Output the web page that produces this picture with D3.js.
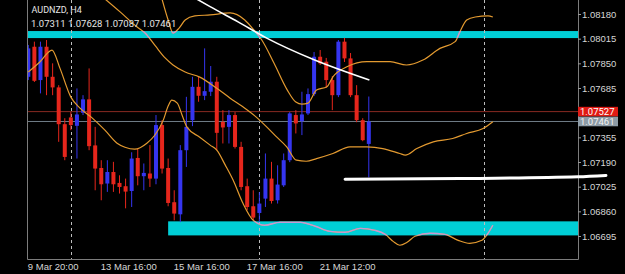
<!DOCTYPE html>
<html>
<head>
<meta charset="utf-8">
<script src="https://cdn.jsdelivr.net/npm/d3@7"></script>
<style>
  html, body { margin: 0; padding: 0; background: #000; }
  svg { display: block; font-family: Roboto, "Noto Sans", sans-serif; }
</style>
</head>
<body>
<div id="chart"></div>
<script>
const symbol = "AUDNZD, H4";

// H4 candles (bar 0 = 9 Mar 20:00)
const openVals = [1.07760, 1.07961, 1.07738, 1.07961, 1.07760, 1.07689, 1.07443, 1.07488, 1.07432, 1.07519,
  1.07609, 1.07301, 1.07150, 1.07046, 1.07123, 1.07050, 1.07028, 1.06996, 1.07217, 1.07095,
  1.07113, 1.07079, 1.07437, 1.07150, 1.06921, 1.06840, 1.07269, 1.07470, 1.07693, 1.07633,
  1.07660, 1.07727, 1.07458, 1.07425, 1.07504, 1.07291, 1.07028, 1.06894, 1.06849, 1.06945,
  1.07079, 1.06934, 1.07034, 1.07202, 1.07504, 1.07463, 1.07515, 1.07644, 1.07894, 1.07861,
  1.07738, 1.07637, 1.07995, 1.07883, 1.07637, 1.07470, 1.07311];
const highVals = [1.07973, 1.07995, 1.07995, 1.08006, 1.07850, 1.07704, 1.07483, 1.07524, 1.07682, 1.07637,
  1.07816, 1.07425, 1.07202, 1.07202, 1.07191, 1.07101, 1.07079, 1.07255, 1.07280, 1.07180,
  1.07303, 1.07504, 1.07470, 1.07213, 1.07001, 1.07303, 1.07626, 1.07760, 1.07760, 1.07950,
  1.07832, 1.07760, 1.07537, 1.07537, 1.07524, 1.07325, 1.07079, 1.07001, 1.06988, 1.07247,
  1.07191, 1.07168, 1.07247, 1.07524, 1.07537, 1.07660, 1.07682, 1.07926, 1.07939, 1.07886,
  1.07765, 1.08006, 1.08020, 1.07919, 1.07704, 1.07483, 1.07628];
const lowVals = [1.07738, 1.07725, 1.07649, 1.07637, 1.07637, 1.07325, 1.07202, 1.07403, 1.07213, 1.07504,
  1.07269, 1.07001, 1.06934, 1.06990, 1.06990, 1.06979, 1.06880, 1.06889, 1.07034, 1.07001,
  1.07023, 1.07041, 1.07113, 1.06894, 1.06800, 1.06788, 1.07157, 1.07430, 1.07593, 1.07604,
  1.07631, 1.07269, 1.07314, 1.07314, 1.07280, 1.07001, 1.06867, 1.06800, 1.06788, 1.06889,
  1.06912, 1.06912, 1.07023, 1.07189, 1.07381, 1.07370, 1.07504, 1.07631, 1.07839, 1.07685,
  1.07537, 1.07624, 1.07859, 1.07624, 1.07456, 1.07329, 1.07087];
const closeVals = [1.07950, 1.07733, 1.07961, 1.07760, 1.07689, 1.07443, 1.07224, 1.07437, 1.07508, 1.07609,
  1.07296, 1.07146, 1.07041, 1.07123, 1.07041, 1.07023, 1.06992, 1.07213, 1.07095, 1.07117,
  1.07079, 1.07437, 1.07146, 1.06916, 1.06845, 1.07269, 1.07425, 1.07693, 1.07633, 1.07664,
  1.07727, 1.07385, 1.07421, 1.07504, 1.07291, 1.07023, 1.06889, 1.06818, 1.06912, 1.07079,
  1.06929, 1.07039, 1.07202, 1.07515, 1.07448, 1.07508, 1.07644, 1.07894, 1.07850, 1.07738,
  1.07637, 1.07995, 1.07883, 1.07637, 1.07470, 1.07336, 1.07461];

// Bollinger bands (shifted 20 bars forward), traced as [bar, price]
const upperBand = [[21.8, 1.08308], [23.0, 1.08140], [23.8, 1.08053], [24.8, 1.08086], [25.8, 1.08140],
  [27.4, 1.08167], [29.9, 1.08174], [33.2, 1.08187], [35.6, 1.08140], [37.1, 1.08073], [38.4, 1.08006],
  [40.4, 1.07852], [42.6, 1.07671], [44.0, 1.07591], [45.0, 1.07577], [46.0, 1.07584], [47.4, 1.07671],
  [49.1, 1.07693], [50.1, 1.07760], [52.4, 1.07827], [55.7, 1.07861], [59.5, 1.07861], [62.2, 1.07839],
  [64.9, 1.07872], [67.7, 1.07950], [70.2, 1.07995], [71.0, 1.08062], [72.1, 1.08140], [73.5, 1.08160],
  [75.6, 1.08167], [76.4, 1.08160]];
const middleBand = [[11.8, 1.08308], [15.1, 1.08194], [17.9, 1.08093], [19.2, 1.08053], [20.9, 1.07966],
  [22.5, 1.07886], [23.8, 1.07839], [25.8, 1.07792], [28.2, 1.07758], [31.0, 1.07683], [33.2, 1.07617],
  [35.3, 1.07559], [37.3, 1.07497], [39.2, 1.07425], [40.7, 1.07363], [42.5, 1.07291], [44.1, 1.07202],
  [45.7, 1.07195], [47.4, 1.07213], [50.1, 1.07247], [52.9, 1.07291], [55.7, 1.07291], [58.3, 1.07280],
  [61.1, 1.07247], [62.0, 1.07236], [63.9, 1.07280], [66.6, 1.07325], [69.8, 1.07347], [72.1, 1.07381],
  [74.8, 1.07414], [76.4, 1.07459]];
const lowerBand = [[0, 1.07792], [1.9, 1.07859], [3.9, 1.07939], [5.2, 1.07818], [7.0, 1.07624],
  [8.5, 1.07550], [10.3, 1.07492], [12.6, 1.07403], [14.6, 1.07316], [15.9, 1.07289], [17.5, 1.07276],
  [19.5, 1.07316], [20.8, 1.07369], [22.2, 1.07470], [23.0, 1.07564], [23.6, 1.07604], [24.5, 1.07584],
  [25.3, 1.07503], [26.1, 1.07423], [28.2, 1.07356], [29.9, 1.07303], [31.0, 1.07269], [32.4, 1.07169],
  [33.7, 1.07068], [35.3, 1.06914], [37.0, 1.06800], [38.9, 1.06767], [41.4, 1.06787], [44.7, 1.06787],
  [47.2, 1.06760], [49.6, 1.06726], [52.1, 1.06720], [54.6, 1.06746], [57.0, 1.06733], [58.7, 1.06706],
  [60.0, 1.06659], [61.1, 1.06633], [62.3, 1.06653], [63.6, 1.06693], [66.1, 1.06713], [68.5, 1.06706],
  [70.7, 1.06666], [72.6, 1.06646], [74.6, 1.06666], [75.6, 1.06713], [76.4, 1.06767]];

// drawn objects
const trendLine = [[27.1, 1.08294], [29.9, 1.08229], [34.5, 1.08127], [39.3, 1.08017], [46.8, 1.07877], [56.1, 1.07738]];
const supportLine = [[52.1, 1.07075], [71.0, 1.07079], [90.4, 1.07091], [95.0, 1.07100]];
const zoneTop = { from: -2, prices: [1.08019, 1.08066] };
const zoneBottom = { from: 23.0, prices: [1.06699, 1.06793] };
const separators = [7, 38, 75];

const timeTicks = [0, 12, 24, 36, 48];
const timeLabels = ["9 Mar 20:00", "13 Mar 16:00", "15 Mar 16:00", "17 Mar 16:00", "21 Mar 12:00"];
const priceTicks = [1.08180, 1.08015, 1.07850, 1.07685, 1.07355, 1.07190, 1.07025, 1.06860, 1.06695];
const askPrice = 1.07527;
const bidPrice = 1.07461;

const W = 625, H = 274;
const plot = { left: 27, right: 578, top: 0, bottom: 260 };

const x = d3.scaleLinear().domain([0, 56]).range([28.3, 368.8]);
const y = d3.scaleLinear().domain([1.06695, 1.08180]).range([236, 14]);

const candles = openVals.map((o, i) => ({
  i, o, h: highVals[i], l: lowVals[i], c: closeVals[i]
}));

const svg = d3.select("#chart").append("svg")
  .attr("width", W).attr("height", H);

svg.append("rect").attr("width", W).attr("height", H).attr("fill", "#000");

const defs = svg.append("defs");
defs.append("clipPath").attr("id", "plotClip")
  .append("rect")
  .attr("x", plot.left).attr("y", plot.top)
  .attr("width", plot.right - plot.left).attr("height", plot.bottom - plot.top);

const zoneClip = defs.append("clipPath").attr("id", "zoneClip");

const g = svg.append("g").attr("clip-path", "url(#plotClip)");

// zones (cyan rectangles)
[zoneTop, zoneBottom].forEach(z => {
  const x0 = Math.max(plot.left, x(z.from));
  const r = {
    x: x0, y: y(z.prices[1]),
    w: plot.right - x0, h: y(z.prices[0]) - y(z.prices[1])
  };
  g.append("rect")
    .attr("x", r.x).attr("y", r.y).attr("width", r.w).attr("height", r.h)
    .attr("fill", "#00ced6");
  zoneClip.append("rect")
    .attr("x", r.x).attr("y", r.y).attr("width", r.w).attr("height", r.h);
});

// weekly separators
g.selectAll(".sep").data(separators).enter().append("line")
  .attr("x1", d => Math.round(x(d)) + 0.5).attr("x2", d => Math.round(x(d)) + 0.5)
  .attr("y1", plot.top).attr("y2", plot.bottom)
  .attr("stroke", "#bdbdbd").attr("stroke-width", 1)
  .attr("stroke-dasharray", "3,3");

// ask / bid lines
g.append("line")
  .attr("x1", plot.left).attr("x2", plot.right)
  .attr("y1", y(askPrice)).attr("y2", y(askPrice))
  .attr("stroke", "#8a2a22").attr("stroke-width", 1);
g.append("line")
  .attr("x1", plot.left).attr("x2", plot.right)
  .attr("y1", y(bidPrice)).attr("y2", y(bidPrice))
  .attr("stroke", "#6f7c86").attr("stroke-width", 1);

// candles
const bull = "#3535f0", bear = "#e6261c";
const cg = g.append("g");
cg.selectAll(".wick").data(candles).enter().append("line")
  .attr("x1", d => x(d.i)).attr("x2", d => x(d.i))
  .attr("y1", d => y(d.h)).attr("y2", d => y(d.l))
  .attr("stroke", d => (d.c >= d.o ? bull : bear))
  .attr("stroke-width", 1);
cg.selectAll(".body").data(candles).enter().append("rect")
  .attr("x", d => x(d.i) - 2)
  .attr("width", 4)
  .attr("y", d => y(Math.max(d.o, d.c)))
  .attr("height", d => Math.max(1.5, Math.abs(y(d.o) - y(d.c))))
  .attr("fill", d => (d.c >= d.o ? bull : bear));

// bands
const bandLine = d3.line()
  .x(d => x(d[0])).y(d => y(d[1]))
  .curve(d3.curveMonotoneX);
const bands = [upperBand, middleBand, lowerBand];
g.selectAll(".band").data(bands).enter().append("path")
  .attr("d", bandLine)
  .attr("fill", "none").attr("stroke", "#e39a30").attr("stroke-width", 1.2);
// where the bands cross the zones the colour is inverted
g.append("g").attr("clip-path", "url(#zoneClip)")
  .selectAll("path").data(bands).enter().append("path")
  .attr("d", bandLine)
  .attr("fill", "none").attr("stroke", "#c59ad6").attr("stroke-width", 1.4);

// trend line
g.append("path")
  .attr("d", d3.line().x(d => x(d[0])).y(d => y(d[1])).curve(d3.curveMonotoneX)(trendLine))
  .attr("fill", "none").attr("stroke", "#ffffff").attr("stroke-width", 1.6);

// frame
svg.append("path")
  .attr("d", `M${plot.left + 0.5},0V${plot.bottom - 0.5}H${plot.right + 0.5}V0`)
  .attr("fill", "none").attr("stroke", "#7c7c7c").attr("stroke-width", 1);

// support line drawn past the frame
svg.append("path")
  .attr("d", d3.line().x(d => x(d[0])).y(d => y(d[1])).curve(d3.curveMonotoneX)(supportLine))
  .attr("fill", "none").attr("stroke", "#ffffff").attr("stroke-width", 3)
  .attr("stroke-linecap", "round");

// price axis
const yAxis = svg.append("g")
  .attr("transform", `translate(${plot.right},0)`)
  .call(d3.axisRight(y).tickValues(priceTicks).tickSize(3).tickPadding(1)
    .tickFormat(d3.format(".5f")));
yAxis.select(".domain").remove();
yAxis.selectAll("line").attr("stroke", "#9a9a9a");
yAxis.selectAll("text").attr("fill", "#d6d6d6").style("font-size", "9.5px");

// time axis
const xAxis = svg.append("g")
  .attr("transform", `translate(0,${plot.bottom})`)
  .call(d3.axisBottom(x).tickValues(timeTicks).tickSize(0).tickPadding(3)
    .tickFormat((d, i) => timeLabels[i]));
xAxis.select(".domain").remove();
xAxis.selectAll("text")
  .attr("text-anchor", "start").attr("dx", "-1")
  .attr("fill", "#d6d6d6").style("font-size", "9.5px");

// ask / bid labels
const tags = [
  { price: askPrice, fill: "#e01a14", text: "#ffffff" },
  { price: bidPrice, fill: "#8d9ba6", text: "#f2f2f2" }
];
tags.forEach(t => {
  const yy = y(t.price);
  svg.append("rect")
    .attr("x", plot.right).attr("y", yy - 4.8)
    .attr("width", 40).attr("height", 9.6)
    .attr("fill", t.fill);
  svg.append("text")
    .attr("x", plot.right + 2).attr("y", yy)
    .attr("dy", "0.36em")
    .attr("fill", t.text).style("font-size", "9.5px")
    .text(d3.format(".5f")(t.price));
});

// header
const last = candles[candles.length - 1];
svg.append("text")
  .attr("x", 31.5).attr("y", 12.5)
  .attr("fill", "#e6e6e6").style("font-size", "9px")
  .text(symbol);
svg.append("text")
  .attr("x", 31).attr("y", 27)
  .attr("fill", "#e6e6e6").style("font-size", "9.5px")
  .text([last.o, last.h, last.l, last.c].map(d3.format(".5f")).join(" "));
</script>
</body>
</html>
